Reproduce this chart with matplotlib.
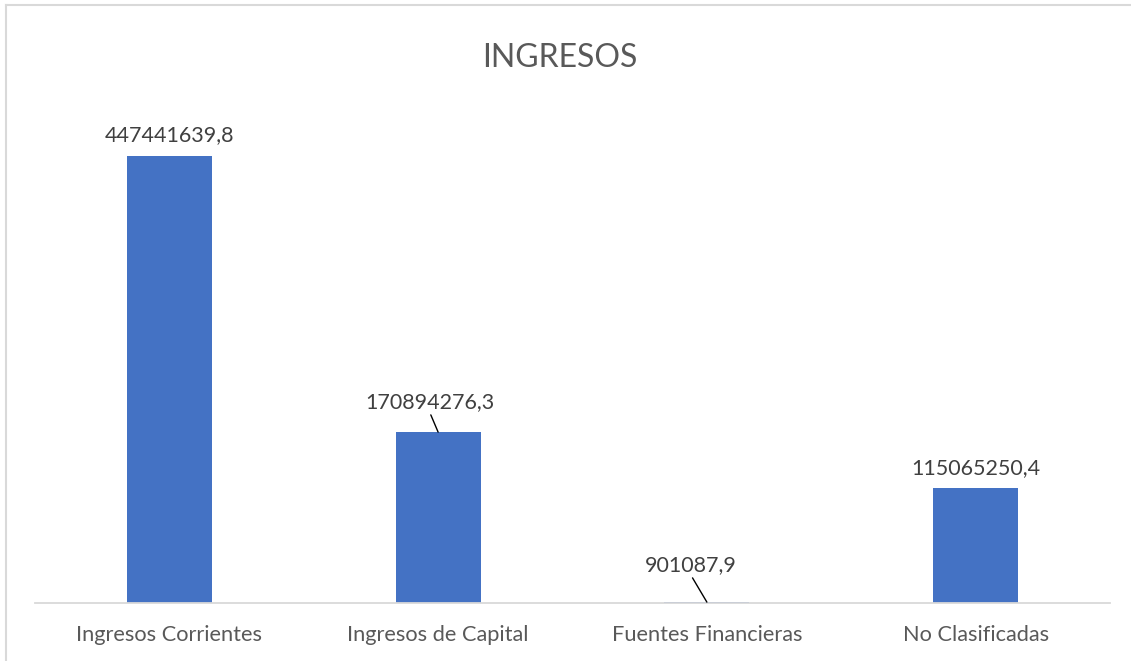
import matplotlib
matplotlib.use("Agg")
import matplotlib.pyplot as plt
from matplotlib.lines import Line2D

categories = ["Ingresos Corrientes", "Ingresos de Capital", "Fuentes Financieras", "No Clasificadas"]
values = [447441639.8, 170894276.3, 901087.9, 115065250.4]
title = "INGRESOS"

plt.rcParams['font.family'] = ['Lato', 'DejaVu Sans']
W, H = 1131, 661
fig = plt.figure(figsize=(W / 100, H / 100), dpi=100)
ax = fig.add_axes([35 / W, (H - 603) / H, (1110 - 35) / W, 500 / H])

x = list(range(len(categories)))
ax.bar(x, values, width=0.316, color="#4472C4", zorder=2)
ax.set_xlim(-0.5, len(categories) - 0.5)
ax.set_ylim(0, 500e6)

for s in ["left", "right", "top"]:
    ax.spines[s].set_visible(False)
ax.spines["bottom"].set_color("#D9D9D9")
ax.spines["bottom"].set_linewidth(1.3)
ax.set_yticks([])
ax.set_xticks(x)
ax.set_xticklabels(categories, fontsize=15.7, color="#595959")
ax.tick_params(axis="x", length=0, pad=15.5)

def fmt(v):
    return f"{v:.1f}".replace(".", ",")

# label offsets (pixels) relative to bar top; leader lines for some
offsets = [(0, 20, False), (-8.5, 30, True), (-16, 37, True), (0, 20, False)]
for xi, v, (dx, dy, lead) in zip(x, values, offsets):
    if lead:
        ax.annotate(fmt(v), xy=(xi, v), xytext=(dx, dy), textcoords="offset pixels",
                    ha="center", va="center", fontsize=15.5, color="#404040",
                    arrowprops=dict(arrowstyle="-", color="black", lw=1.0,
                                    relpos=(0.5, 0), shrinkA=0, shrinkB=0))
    else:
        ax.annotate(fmt(v), xy=(xi, v), xytext=(dx, dy), textcoords="offset pixels",
                    ha="center", va="center", fontsize=15.5, color="#404040")

fig.text(559.5 / W, 1 - 58 / H, title, ha="center", va="center", fontsize=23, color="#595959")

border = dict(color="#D9D9D9", lw=1.5, transform=fig.transFigure)
fig.lines.append(Line2D([5.5 / W, 5.5 / W], [0, 1 - 4.5 / H], **border))
fig.lines.append(Line2D([5.5 / W, 1], [1 - 4.5 / H, 1 - 4.5 / H], **border))

fig.savefig("out.png", dpi=100, facecolor="white")
